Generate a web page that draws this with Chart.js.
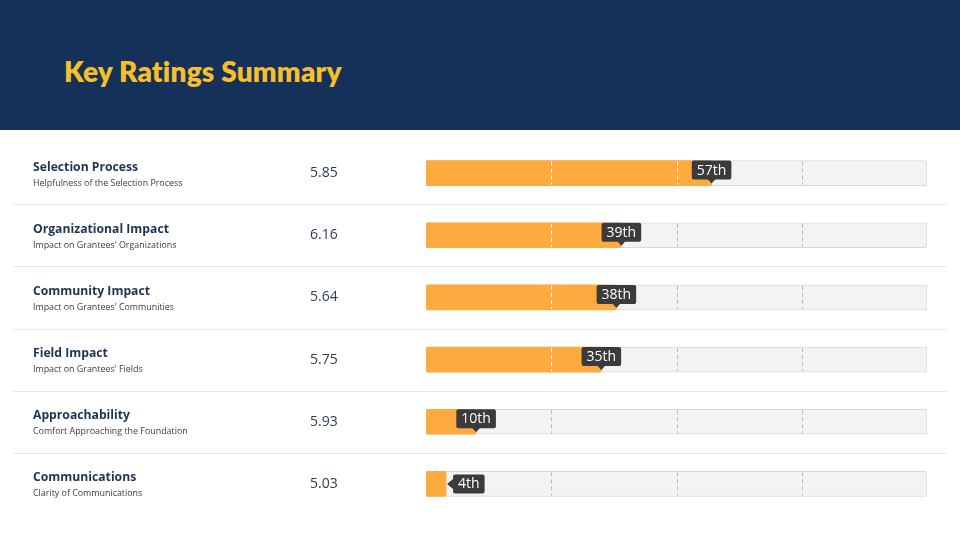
<!DOCTYPE html>
<html>
<head>
<meta charset="utf-8">
<script src="https://cdn.jsdelivr.net/npm/chart.js@4/dist/chart.umd.min.js"></script>
<style>
  html, body { margin: 0; padding: 0; background: #ffffff; }
  body { width: 960px; height: 540px; overflow: hidden; position: relative; }
  .header {
    position: absolute; left: 0; top: 0; width: 960px; height: 130px;
    background: #163159;
  }
  .header h1 {
    position: absolute; left: 64px; top: 53px; margin: 0;
    font-family: "Lato", "Noto Sans", sans-serif; font-weight: 800;
    font-size: 28px; line-height: 36px; color: #f6bf2b; letter-spacing: 0.2px;
  }
  .chart-wrap { position: absolute; left: 0; top: 130px; width: 960px; height: 410px; }
</style>
</head>
<body>
<div class="header"><h1>Key Ratings Summary</h1></div>
<div class="chart-wrap"><canvas id="ratingsChart" width="960" height="410"></canvas></div>
<script>
// Key ratings: one row per measure, bar = percentile rank
const categories = [
  "Selection Process",
  "Organizational Impact",
  "Community Impact",
  "Field Impact",
  "Approachability",
  "Communications"
];
const subtitles = [
  "Helpfulness of the Selection Process",
  "Impact on Grantees' Organizations",
  "Impact on Grantees' Communities",
  "Impact on Grantees' Fields",
  "Comfort Approaching the Foundation",
  "Clarity of Communications"
];
const scores = [5.85, 6.16, 5.64, 5.75, 5.93, 5.03];
const percentiles = [57, 39, 38, 35, 10, 4];
const trackValues = [100, 100, 100, 100, 100, 100];
const quartileTicks = [25, 50, 75];

const ORANGE = "#fdaa3e";
const TRACK = "#f3f3f3";

function ordinal(n) {
  const mod100 = n % 100;
  if (mod100 >= 11 && mod100 <= 13) return n + "th";
  const last = n % 10;
  if (last === 1) return n + "st";
  if (last === 2) return n + "nd";
  if (last === 3) return n + "rd";
  return n + "th";
}

function roundRect(ctx, x, y, w, h, r) {
  ctx.beginPath();
  ctx.moveTo(x + r, y);
  ctx.lineTo(x + w - r, y);
  ctx.quadraticCurveTo(x + w, y, x + w, y + r);
  ctx.lineTo(x + w, y + h - r);
  ctx.quadraticCurveTo(x + w, y + h, x + w - r, y + h);
  ctx.lineTo(x + r, y + h);
  ctx.quadraticCurveTo(x, y + h, x, y + h - r);
  ctx.lineTo(x, y + r);
  ctx.quadraticCurveTo(x, y, x + r, y);
  ctx.closePath();
}

// Row labels, scores, separators, quartile dashes and percentile badges
const rowDecorations = {
  id: "rowDecorations",
  afterDatasetsDraw(chart) {
    const ctx = chart.ctx;
    const xScale = chart.scales.x;
    const yScale = chart.scales.y;
    const barMeta = chart.getDatasetMeta(0);
    const left = xScale.getPixelForValue(0);

    ctx.save();

    // separators between rows
    ctx.strokeStyle = "#e7e7e7";
    ctx.lineWidth = 1;
    for (let i = 0; i < categories.length - 1; i++) {
      const yMid = Math.round((yScale.getPixelForValue(i) + yScale.getPixelForValue(i + 1)) / 2) + 0.5;
      ctx.beginPath();
      ctx.moveTo(13, yMid);
      ctx.lineTo(947, yMid);
      ctx.stroke();
    }

    categories.forEach((name, i) => {
      const yc = yScale.getPixelForValue(i);
      const bar = barMeta.data[i];
      const top = yc - bar.height / 2;
      const bottom = yc + bar.height / 2;
      const end = xScale.getPixelForValue(percentiles[i]);

      // left text
      ctx.textBaseline = "middle";
      ctx.textAlign = "left";
      ctx.fillStyle = "#1e3452";
      ctx.font = "bold 12.2px 'Open Sans', sans-serif";
      ctx.fillText(name, 33, yc - 6);
      ctx.fillStyle = "#3c3c3c";
      ctx.font = "8.9px 'Open Sans', sans-serif";
      ctx.fillText(subtitles[i], 33, yc + 10);

      ctx.fillStyle = "#2d3d55";
      ctx.font = "14px 'Open Sans', sans-serif";
      ctx.fillText(scores[i].toFixed(2), 310, yc);

      // quartile dashes, white over the orange fill
      ctx.lineWidth = 1;
      ctx.setLineDash([4, 3]);
      quartileTicks.forEach(t => {
        const x = Math.round(xScale.getPixelForValue(t)) + 0.5;
        ctx.strokeStyle = t < percentiles[i] ? "#ffffff" : "#b9b9b9";
        ctx.beginPath();
        ctx.moveTo(x, top + 1);
        ctx.lineTo(x, bottom - 1);
        ctx.stroke();
      });
      ctx.setLineDash([]);

      // percentile badge
      const label = ordinal(percentiles[i]);
      ctx.font = "14px 'Open Sans', sans-serif";
      const tw = ctx.measureText(label).width;
      const bw = tw + 10;
      const bh = 19;
      ctx.fillStyle = "#3b3b3b";
      if (end - bw / 2 < left + 10) {
        // badge sits to the right, pointer to the left
        const bx = end + 7;
        const by = yc - bh / 2;
        roundRect(ctx, bx, by, bw, bh, 2);
        ctx.fill();
        ctx.beginPath();
        ctx.moveTo(bx, yc - 5);
        ctx.lineTo(end + 1, yc);
        ctx.lineTo(bx, yc + 5);
        ctx.closePath();
        ctx.fill();
        ctx.fillStyle = "#ffffff";
        ctx.textAlign = "center";
        ctx.fillText(label, bx + bw / 2, yc + 0.5);
      } else {
        const bx = end - bw / 2;
        const by = top;
        roundRect(ctx, bx, by, bw, bh, 2);
        ctx.fill();
        ctx.beginPath();
        ctx.moveTo(end - 4, by + bh - 0.5);
        ctx.lineTo(end, by + bh + 4);
        ctx.lineTo(end + 4, by + bh - 0.5);
        ctx.closePath();
        ctx.fill();
        ctx.fillStyle = "#ffffff";
        ctx.textAlign = "center";
        ctx.fillText(label, end, by + bh / 2 + 0.5);
      }
    });

    ctx.restore();
  }
};

const chart = new Chart(document.getElementById("ratingsChart"), {
  type: "bar",
  data: {
    labels: categories,
    datasets: [
      {
        label: "Percentile",
        data: percentiles,
        backgroundColor: ORANGE,
        borderWidth: 0,
        borderRadius: 2,
        borderSkipped: false,
        barThickness: 25,
        grouped: false,
        order: 0
      },
      {
        label: "Track",
        data: trackValues,
        backgroundColor: TRACK,
        borderColor: "#d8d8d8",
        borderWidth: 1,
        borderRadius: 2,
        borderSkipped: false,
        barThickness: 25,
        grouped: false,
        order: 1
      }
    ]
  },
  options: {
    indexAxis: "y",
    responsive: false,
    animation: false,
    events: [],
    layout: { padding: { left: 426, right: 33, top: 12, bottom: 25 } },
    scales: {
      x: { display: false, min: 0, max: 100 },
      y: { display: false }
    },
    plugins: {
      legend: { display: false },
      tooltip: { enabled: false }
    }
  },
  plugins: [rowDecorations]
});
</script>
</body>
</html>
